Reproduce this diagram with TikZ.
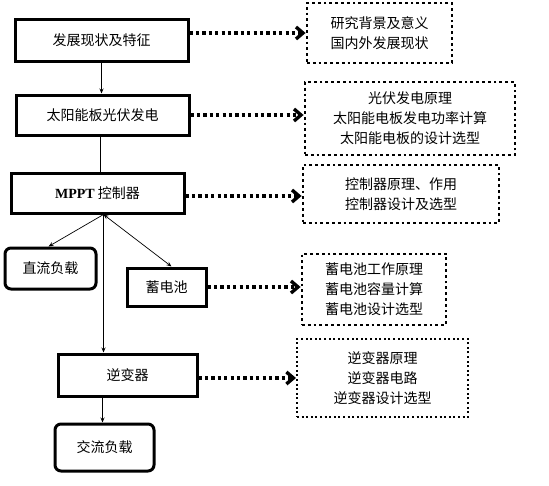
\documentclass[tikz,border=0pt]{standalone}
\usepackage{fontspec}
\setmainfont{Liberation Serif}
\newfontfamily\cjk{Noto Sans CJK SC}
\usetikzlibrary{arrows.meta}

\begin{document}
\begin{tikzpicture}[x=1pt,y=-1pt,
  every node/.style={font=\cjk\fontsize{14}{20}\selectfont, inner sep=0pt, align=center},
  mainbox/.style={draw, line width=3pt, minimum width=#1},
  loadbox/.style={draw, line width=3pt, rounded corners=6pt, minimum width=#1},
  notebox/.style={draw, line width=2.8pt, dash pattern=on 2.8pt off 3pt, minimum width=#1},
  flow/.style={line width=0.7pt, -{Stealth[length=5pt,width=4pt]}},
  hint/.style={line width=3.2pt, dash pattern=on 3.2pt off 3.2pt,
    -{Straight Barb[length=7pt,width=12pt,line width=3.4pt]}}]
\useasboundingbox (0,0) rectangle (549,485);
% main chain
\node [mainbox=173, minimum height=42] (dev) at (101.5,40) {发展现状及特征};
\node [mainbox=173, minimum height=40] (pv) at (102.5,115) {太阳能板光伏发电};
\node [mainbox=173, minimum height=40] (mppt) at (97.5,193) {{\rmfamily\bfseries MPPT} 控制器};
\node [loadbox=91, minimum height=41] (dcload) at (50.5,268.5) {直流负载};
\node [mainbox=79, minimum height=38] (bat) at (166.5,287) {蓄电池};
\node [mainbox=139, minimum height=42] (inv) at (127.5,375) {逆变器};
\node [loadbox=99, minimum height=47] (acload) at (104.5,447.5) {交流负载};
% notes
\node [notebox=145, minimum height=60] (n1) at (379.5,33) {研究背景及意义\\国内外发展现状};
\node [notebox=210, minimum height=73] (n2) at (410,118.5) {光伏发电原理\\太阳能电板发电功率计算\\太阳能电板的设计选型};
\node [notebox=196, minimum height=58] (n3) at (401,194) {控制器原理、作用\\控制器设计及选型};
\node [notebox=144, minimum height=71] (n4) at (374,289.5) {蓄电池工作原理\\蓄电池容量计算\\蓄电池设计选型};
\node [notebox=171, minimum height=78, line width=2pt, dash pattern=on 2pt off 2.6pt] (n5) at (382.5,378) {逆变器原理\\逆变器电路\\逆变器设计选型};
% flow
\coordinate (hub) at ([xshift=6pt]mppt.south);
\draw [flow] (dev.south) -- (dev.south |- pv.north);
\draw [line width=0.7pt] ([xshift=-2pt]pv.south) -- ([xshift=-2pt]pv.south |- mppt.north);
\draw [flow] (hub) -- ([xshift=-2pt]dcload.north);
\draw [flow, {Stealth[length=5pt,width=4pt]}-{Stealth[length=5pt,width=4pt]}] (hub) -- ([xshift=5pt]bat.north);
\draw [flow] (hub) -- (hub |- inv.north);
\draw [flow] ([xshift=-2pt]acload.north |- inv.south) -- ([xshift=-2pt]acload.north);
% dotted hints
\draw [hint] (dev.east |- n1) -- (n1.west);
\draw [hint] (pv.east) -- (pv.east -| n2.west);
\draw [hint] ([yshift=-3pt]mppt.east) -- ([yshift=-3pt]mppt.east -| n3.west);
\draw [hint] (bat.east) -- (bat.east -| n4.west);
\draw [hint] ([yshift=-3pt]inv.east) -- ([yshift=-3pt]inv.east -| n5.west);
\end{tikzpicture}
\end{document}
